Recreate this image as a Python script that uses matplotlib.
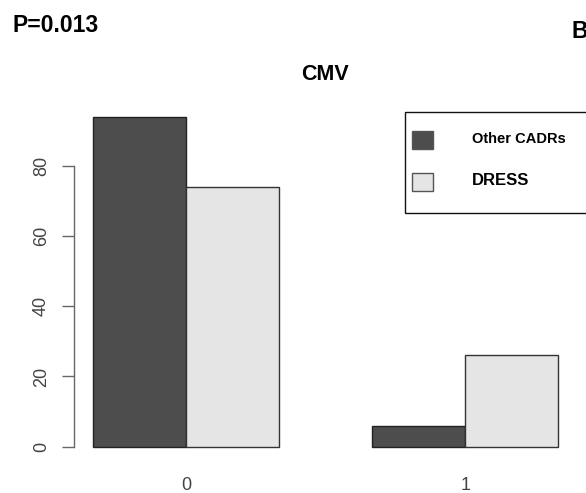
import numpy as np
import matplotlib
matplotlib.use('Agg')
import matplotlib.pyplot as plt
from matplotlib.patches import Rectangle

# data
groups = ['0', '1']
other_cadrs = [94, 6]
dress = [74, 26]
series_names = ['Other CADRs', 'DRESS']
series_colors = ['#4d4d4d', '#e5e5e5']
yticks = [0, 20, 40, 60, 80]

plt.rcParams['font.family'] = ['Liberation Sans', 'DejaVu Sans']

W, H = 586, 493
fig = plt.figure(figsize=(W / 100, H / 100), dpi=100)

# plot region like R barplot(beside=TRUE): bar width 1, one bar gap between groups
ax = fig.add_axes([74.1 / W, 1 - 459.9 / H, 502.8 / W, 356.6 / H])
idx = np.arange(len(groups))
left_other = 1 + 3 * idx
left_dress = 2 + 3 * idx
ax.bar(left_other, other_cadrs, width=1, align='edge', color=series_colors[0],
       edgecolor='#222222', linewidth=1)
ax.bar(left_dress, dress, width=1, align='edge', color=series_colors[1],
       edgecolor='#333333', linewidth=1)

xmin, xmax = 1, 3 * len(groups)
ymax = max(max(other_cadrs), max(dress))
ax.set_xlim(xmin - 0.04 * (xmax - xmin), xmax + 0.04 * (xmax - xmin))
ax.set_ylim(-0.04 * ymax, ymax * 1.04)

for s in ['top', 'right', 'bottom']:
    ax.spines[s].set_visible(False)
ax.spines['left'].set_bounds(yticks[0], yticks[-1])
ax.spines['left'].set_color('#666666')
ax.spines['left'].set_linewidth(1)

ax.set_yticks(yticks)
ax.set_yticklabels([str(t) for t in yticks], rotation=90, va='center')
ax.tick_params(axis='y', length=8.3, width=1, color='#666666', labelsize=13,
               labelcolor='#444444', pad=9)
ax.set_xticks(left_dress)
ax.set_xticklabels(groups)
ax.tick_params(axis='x', length=0, labelsize=13, labelcolor='#444444', pad=12)

# overlay in pixel coordinates for titles and the legend
ov = fig.add_axes([0, 0, 1, 1], facecolor='none')
ov.set_xlim(0, W)
ov.set_ylim(H, 0)
ov.axis('off')

ov.text(12.5, 31.7, 'P=0.013', fontsize=16.5, fontweight='bold', va='baseline', ha='left')
# panel letter, cut at the right edge as in the source image
ov.text(571.5, 38.3, 'B', fontsize=16.5, fontweight='bold', va='baseline', ha='left')
ov.text(325, 80, 'CMV', fontsize=15.5, fontweight='bold', va='baseline', ha='center')

ov.add_patch(Rectangle((405, 112.3), 200, 101, facecolor='white', edgecolor='#111111', linewidth=1))
box_y = [131, 173.3]
text_base = [143.3, 185]
text_size = [10.5, 12]
for name, col, by, tb, fs in zip(series_names, series_colors, box_y, text_base, text_size):
    ov.add_patch(Rectangle((412.3, by), 21, 18, facecolor=col, edgecolor='#555555', linewidth=1))
    ov.text(471.5, tb, name, fontsize=fs, fontweight='bold', va='baseline', ha='left')

fig.savefig('out.png', dpi=100)
